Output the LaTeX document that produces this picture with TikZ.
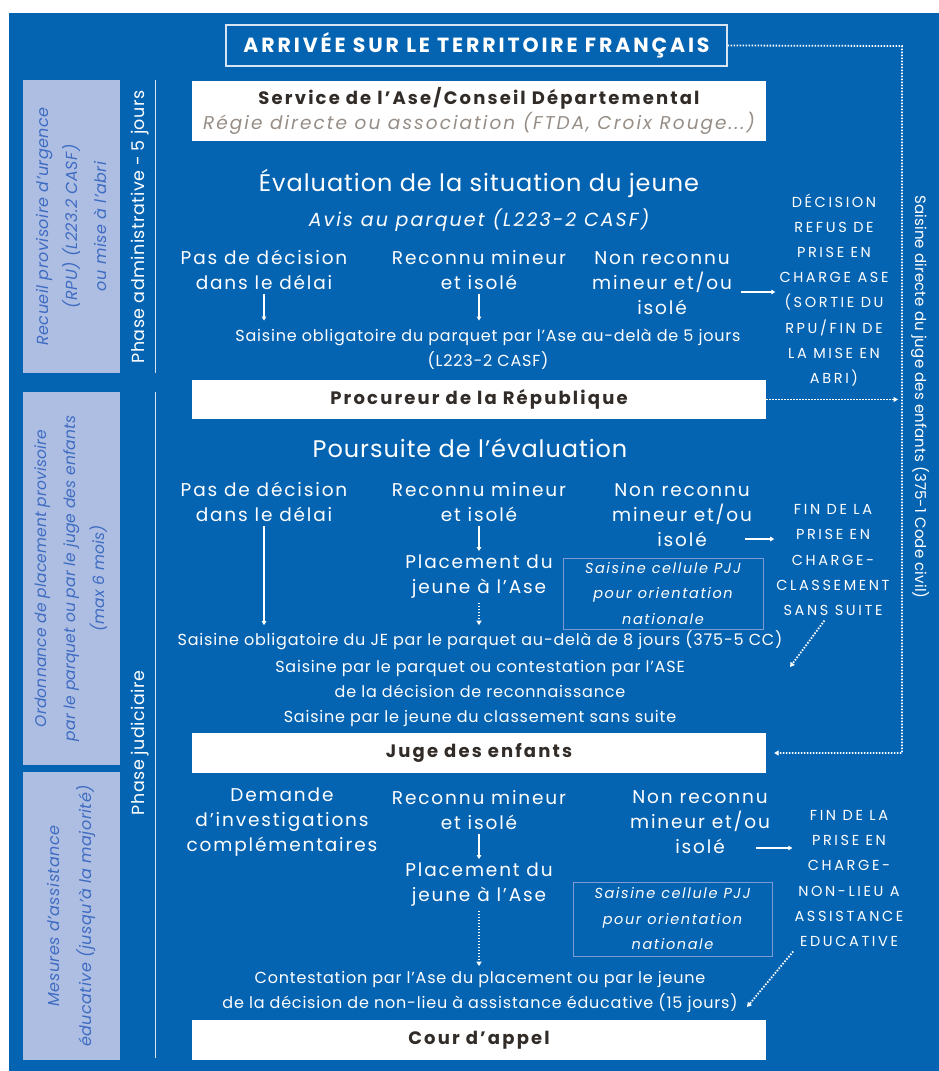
\documentclass[tikz,border=0pt]{standalone}
\usepackage{fontspec}
\setmainfont{Poppins}
\usetikzlibrary{arrows.meta}
\definecolor{bg}{RGB}{5,100,178}
\definecolor{side}{RGB}{174,190,226}
\definecolor{sidetxt}{RGB}{62,108,194}
\definecolor{dark}{RGB}{50,44,40}
\definecolor{greyit}{RGB}{150,142,134}
\definecolor{lineclr}{RGB}{215,228,244}
\definecolor{pjjclr}{RGB}{125,155,210}
\newcommand{\ls}[1]{\addfontfeature{LetterSpace=#1}}
\tikzset{
 txt/.style={text=white, align=center, inner sep=0pt, font=\ls{10}\fontsize{18.5}{25}\selectfont},
 big/.style={text=white, inner sep=0pt, font=\ls{4}\fontsize{24}{28}\selectfont},
 small/.style={text=white, align=center, inner sep=0pt, font=\ls{5}\fontsize{16}{25}\selectfont},
 caps/.style={text=white, align=center, inner sep=0pt, font=\ls{18}\fontsize{14.5}{25.2}\selectfont},
 wbox/.style={fill=white, text=dark, inner sep=0pt, minimum width=574pt, align=center, font=\ls{12}\bfseries\fontsize{18}{25}\selectfont},
 sidebox/.style={fill=side, text=sidetxt, inner sep=0pt, align=center, rotate=90, minimum height=97pt, font=\ls{3}\itshape\fontsize{16}{29}\selectfont},
 phase/.style={text=white, inner sep=0pt, rotate=90, font=\ls{2.5}\fontsize{17.5}{20}\selectfont},
 pjjbox/.style={draw=pjjclr, line width=0.8pt, text=white, align=center, inner sep=0pt, font=\ls{11}\itshape\fontsize{14.5}{25.5}\selectfont},
 arr/.style={white, line width=1.1pt, -{Triangle[length=4pt,width=4.5pt]}},
 darr/.style={white, line width=1.8pt, dash pattern=on 1.5pt off 1.5pt, -{Triangle[length=4.5pt,width=5pt]}},
}
\begin{document}
\begin{tikzpicture}[x=1pt,y=-1pt]
\useasboundingbox (0,0) rectangle (939,1071);
\fill[white] (0,0) rectangle (939,1071);
\fill[bg] (9,13) rectangle (939,1071);

% left sidebars
\node[sidebox, minimum width=293pt] (s1) at (71.5,226.5) {Recueil provisoire d'urgence\\(RPU) (L223.2 CASF)\\ou mise à l'abri};
\node[sidebox, minimum width=373pt, font=\ls{1}\itshape\fontsize{15.5}{29}\selectfont] (s2) at (71.5,578.5) {Ordonnance de placement provisoire\\par le parquet ou par le juge des enfants\\(max 6 mois)};
\node[sidebox, minimum width=288pt, font=\ls{3}\itshape\fontsize{16}{32}\selectfont] (s3) at (71.5,916) {Mesures d'assistance\\éducative (jusqu'à la majorité)};

% phase labels
\node[phase] (ph1) at (140,227) {Phase administrative - 5 jours};
\node[phase] (ph2) at (140,743) {Phase judiciaire};
\draw[lineclr, line width=1pt] (155,80) -- (155,373);
\draw[lineclr, line width=1pt] (155,392) -- (155,1058);

% top banner
\node[draw=lineclr, line width=1.4pt, minimum width=501pt, minimum height=41pt, inner sep=0pt, text=white, font=\ls{14}\bfseries\fontsize{20.5}{22}\selectfont] (top) at (476.5,45.5) {ARRIVÉE SUR LE TERRITOIRE FRANÇAIS};

% white boxes
\node[wbox, minimum height=60pt] (ase) at (479,111) {Service de l'Ase/Conseil Départemental\\{\mdseries\itshape\color{greyit}\ls{11}\fontsize{18.5}{25}\selectfont Régie directe ou association (FTDA, Croix Rouge...)}};
\node[wbox, minimum height=39pt] (proc) at (479,399.5) {Procureur de la République};
\node[wbox, minimum height=40pt] (juge) at (479,753) {Juge des enfants};
\node[wbox, minimum height=40pt] (cour) at (479,1040) {Cour d'appel};

% section 1
\node[big] (eval) at (479,183) {Évaluation de la situation du jeune};
\node[txt, font=\ls{11}\itshape\fontsize{19}{22}\selectfont] (avis) at (479,220) {Avis au parquet (L223-2 CASF)};
\node[txt] (c1a) at (264,270) {Pas de décision\\dans le délai};
\node[txt] (c1b) at (479,270) {Reconnu mineur\\et isolé};
\node[txt] (c1c) at (662,283) {Non reconnu\\mineur et/ou\\isolé};
\node[small] (sais1) at (488,349) {Saisine obligatoire du parquet par l'Ase au-delà de 5 jours\\(L223-2 CASF)};
\node[caps] (dec) at (834,290) {DÉCISION\\REFUS DE\\PRISE EN\\CHARGE ASE\\(SORTIE DU\\RPU/FIN DE\\LA MISE EN\\ABRI)};
\draw[arr, shorten <=4pt, shorten >=8pt] (c1a.south) -- (c1a.south |- sais1.north);
\draw[arr, shorten <=4pt, shorten >=8pt] (c1b.south) -- (c1b.south |- sais1.north);
\coordinate (r1) at (741,292);
\draw[arr, shorten >=4pt] (r1) -- (r1 -| dec.west);

% section 2
\node[big] (pours) at (470,448) {Poursuite de l'évaluation};
\node[txt] (c2a) at (264,502) {Pas de décision\\dans le délai};
\node[txt] (c2b) at (479,502) {Reconnu mineur\\et isolé};
\node[txt] (c2c) at (682,515) {Non reconnu\\mineur et/ou\\isolé};
\node[txt] (plac2) at (479,577) {Placement du\\jeune à l'Ase};
\node[pjjbox, minimum width=200pt, minimum height=71pt] (pjj2) at (663,593.5) {Saisine cellule PJJ\\pour orientation\\nationale};
\node[caps] (fin2) at (833,560) {FIN DE LA\\PRISE EN\\CHARGE-\\CLASSEMENT\\SANS SUITE};
\node[small] (sais2) at (480,640) {Saisine obligatoire du JE par le parquet au-delà de 8 jours (375-5 CC)};
\node[small] (recon) at (480,693) {Saisine par le parquet ou contestation par l'ASE\\de la décision de reconnaissance\\Saisine par le jeune du classement sans suite};
\draw[arr, shorten <=4pt, shorten >=5pt] (c2a.south) -- (c2a.south |- sais2.north);
\draw[arr, shorten <=4pt, shorten >=4pt] (c2b.south) -- (plac2.north);
\draw[darr, shorten <=4pt, shorten >=5pt] (plac2.south) -- (plac2.south |- sais2.north);
\coordinate (r2) at (745,539);
\draw[arr, shorten >=2pt] (r2) -- (r2 -| fin2.west);
\coordinate (d2) at (790,667);
\draw[darr, shorten <=6pt] ([xshift=-5pt]fin2.south) -- (d2);

% section 3
\node[txt] (c3a) at (282,822) {Demande\\d'investigations\\complémentaires};
\node[txt] (c3b) at (479,810) {Reconnu mineur\\et isolé};
\node[txt] (c3c) at (700,822) {Non reconnu\\mineur et/ou\\isolé};
\node[txt] (plac3) at (479,885) {Placement du\\jeune à l'Ase};
\node[pjjbox, minimum width=199pt, minimum height=74pt] (pjj3) at (672.5,919) {Saisine cellule PJJ\\pour orientation\\nationale};
\node[caps] (fin3) at (849,878.5) {FIN DE LA\\PRISE EN\\CHARGE-\\NON-LIEU A\\ASSISTANCE\\EDUCATIVE};
\node[small] (cont) at (480,992) {Contestation par l'Ase du placement ou par le jeune\\de la décision de non-lieu à assistance éducative (15 jours)};
\draw[arr, shorten <=4pt, shorten >=4pt] (c3b.south) -- (plac3.north);
\draw[darr, shorten <=4pt, shorten >=5pt] (plac3.south) -- (plac3.south |- cont.north);
\coordinate (r3) at (756,848);
\draw[arr, shorten >=2pt] (r3) -- (r3 -| fin3.west);
\coordinate (d3) at (747,1007);
\draw[darr, shorten <=6pt] ([xshift=-52pt]fin3.south) -- (d3);

% right side: direct referral
\node[text=white, inner sep=0pt, rotate=-90, font=\ls{1}\fontsize{15}{18}\selectfont] (direct) at (920,397) {Saisine directe du juge des enfants (375-1 Code civil)};
\coordinate (vl) at (902,46);
\draw[darr, shorten >=8pt] (top.east) -- (vl) -- (vl |- juge.east) -- (juge.east);
\draw[darr, shorten >=4pt] (proc.east) -- (proc.east -| vl);
\end{tikzpicture}
\end{document}
